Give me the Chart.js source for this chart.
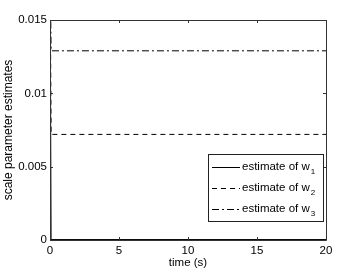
<!DOCTYPE html>
<html><head><meta charset="utf-8">
<script src="https://cdn.jsdelivr.net/npm/chart.js@4"></script>
<style>html,body{margin:0;padding:0;background:#fff}#c{display:block}</style>
</head><body>
<canvas id="c" width="360" height="270"></canvas>
<script>
const time = [0, 0.08, 20];
const w1 = [0.02, 0.00003, 0.00003];
const w2 = [0.02, 0.0072, 0.0072];
const w3 = [0.02, 0.0129, 0.0129];
const labels = ['estimate of w', 'estimate of w', 'estimate of w'];
const subs = ['1', '2', '3'];
const xTicks = [0, 5, 10, 15, 20];
const yTicks = [0, 0.005, 0.01, 0.015];

const FONT = 'Liberation Sans, Arial, sans-serif';
const toPts = (ys) => time.map((t, i) => ({x: t, y: ys[i]}));

const boxPlugin = {
  id: 'box',
  afterDatasetsDraw(chart) {
    const {ctx, chartArea: a, scales: {x, y}} = chart;
    ctx.save();
    ctx.strokeStyle = '#333';
    ctx.lineWidth = 1;
    ctx.beginPath();
    ctx.rect(a.left + 0.5, a.top + 0.5, a.right - a.left, a.bottom - a.top);
    ctx.stroke();
    ctx.beginPath();
    xTicks.forEach(v => {
      const px = Math.round(x.getPixelForValue(v)) + 0.5;
      ctx.moveTo(px, a.bottom); ctx.lineTo(px, a.bottom - 3);
      ctx.moveTo(px, a.top); ctx.lineTo(px, a.top + 3);
    });
    yTicks.forEach(v => {
      const py = Math.round(y.getPixelForValue(v)) + 0.5;
      ctx.moveTo(a.left, py); ctx.lineTo(a.left + 3, py);
      ctx.moveTo(a.right, py); ctx.lineTo(a.right - 3, py);
    });
    ctx.stroke();
    // legend
    const lx = 208, ly = 154, lw = 115, lh = 67;
    ctx.fillStyle = '#fff';
    ctx.fillRect(lx, ly, lw, lh);
    ctx.strokeStyle = '#222';
    ctx.strokeRect(lx + 0.5, ly + 0.5, lw, lh);
    chart.data.datasets.forEach((ds, i) => {
      const cy = ly + 13 + i * 21;
      ctx.strokeStyle = '#000';
      ctx.setLineDash(ds.borderDash || []);
      ctx.beginPath();
      ctx.moveTo(lx + 4, cy + 0.5); ctx.lineTo(lx + 32, cy + 0.5);
      ctx.stroke();
      ctx.setLineDash([]);
      ctx.fillStyle = '#000';
      ctx.font = '11.5px ' + FONT;
      ctx.textBaseline = 'middle';
      ctx.textAlign = 'left';
      ctx.fillText(labels[i], lx + 34, cy);
      const w = ctx.measureText(labels[i]).width;
      ctx.font = '8px ' + FONT;
      ctx.fillText(subs[i], lx + 34 + w + 1, cy + 5);
    });
    ctx.restore();
  }
};

new Chart(document.getElementById('c'), {
  type: 'line',
  data: {
    datasets: [
      {label: 'w1', data: toPts(w1), borderColor: '#000', borderWidth: 1, pointRadius: 0, borderDash: []},
      {label: 'w2', data: toPts(w2), borderColor: '#000', borderWidth: 1, pointRadius: 0, borderDash: [5, 4]},
      {label: 'w3', data: toPts(w3), borderColor: '#000', borderWidth: 1, pointRadius: 0, borderDash: [7, 3, 2, 3]}
    ]
  },
  options: {
    responsive: false,
    animation: false,
    events: [],
    layout: {padding: {left: 0, top: 20, right: 34, bottom: 0}},
    plugins: {legend: {display: false}, tooltip: {enabled: false}},
    scales: {
      x: {
        type: 'linear', min: 0, max: 20,
        afterFit: s => { s.height = 30; },
        afterBuildTicks: s => { s.ticks = xTicks.map(v => ({value: v})); },
        grid: {display: false, drawTicks: false},
        border: {display: false},
        ticks: {color: '#000', font: {family: FONT, size: 11.5}, padding: 4, maxRotation: 0},
        title: {display: true, text: 'time (s)', color: '#000', font: {family: FONT, size: 11.5}, padding: {top: 0, bottom: 0}}
      },
      y: {
        type: 'linear', min: 0, max: 0.015,
        afterFit: s => { s.width = 50; },
        afterBuildTicks: s => { s.ticks = yTicks.map(v => ({value: v})); },
        grid: {display: false, drawTicks: false},
        border: {display: false},
        ticks: {color: '#000', font: {family: FONT, size: 11.5}, padding: 3, callback: v => String(v)},
        title: {display: true, text: 'scale parameter estimates', color: '#000', font: {family: FONT, size: 12}, padding: {top: 1, bottom: 0}}
      }
    }
  },
  plugins: [boxPlugin]
});
</script>
</body></html>
